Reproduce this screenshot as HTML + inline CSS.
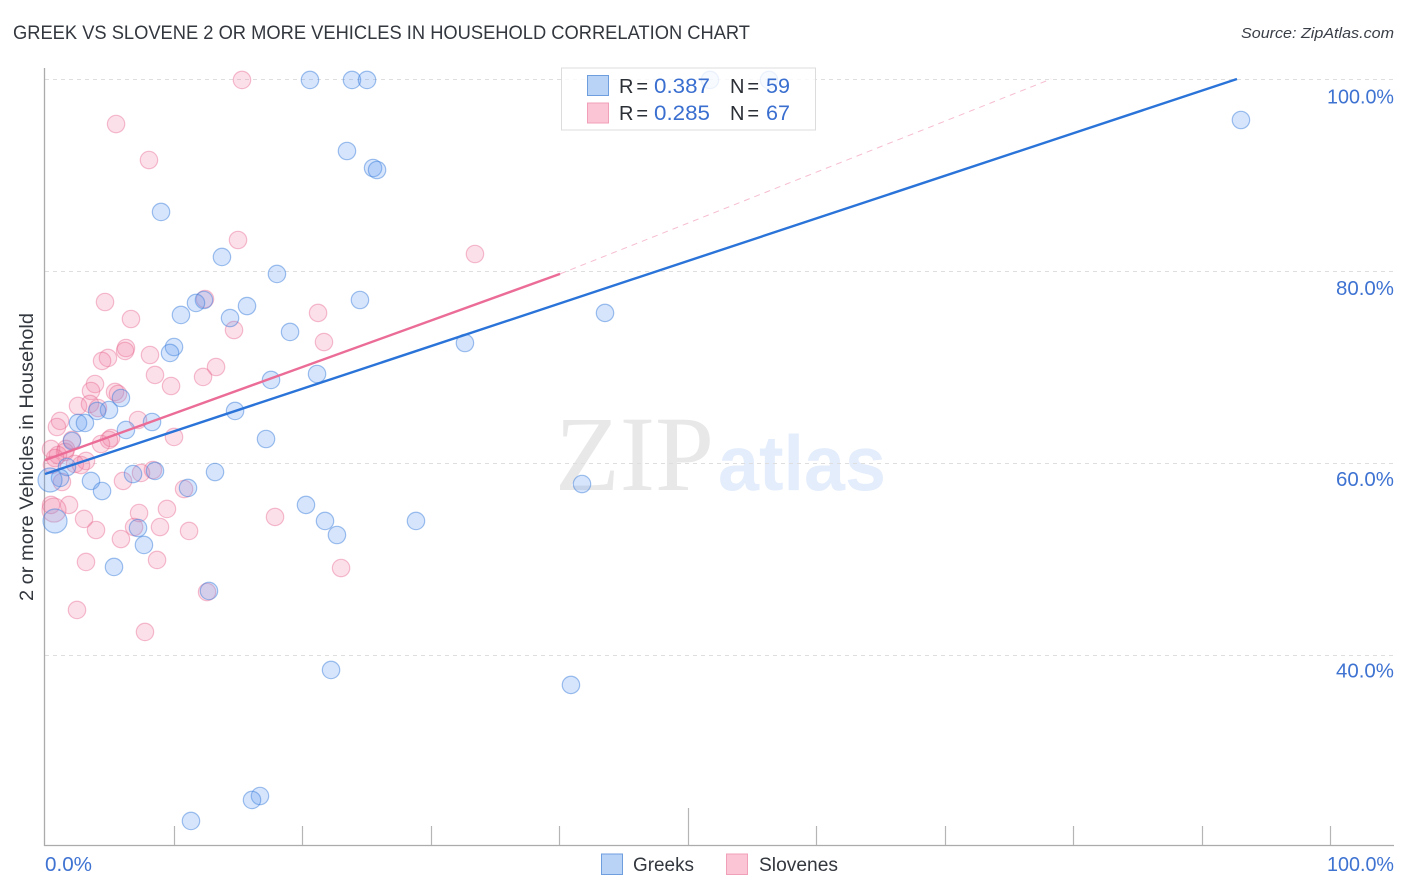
<!DOCTYPE html>
<html lang="en">
<head>
<meta charset="utf-8">
<title>Greek vs Slovene 2 or More Vehicles in Household Correlation Chart</title>
<style>
html,body{margin:0;padding:0;background:#fff;}
#chart{display:block;width:1406px;height:892px;font-family:"Liberation Sans",sans-serif;}
</style>
</head>
<body>
<svg id="chart" xmlns="http://www.w3.org/2000/svg" width="1406" height="892" viewBox="0 0 1406 892">
  <text x="13" y="39" font-size="19.5" fill="#33373e" textLength="737" lengthAdjust="spacingAndGlyphs">GREEK VS SLOVENE 2 OR MORE VEHICLES IN HOUSEHOLD CORRELATION CHART</text>
  <text x="1241" y="38" font-size="15" font-style="italic" fill="#3a3f47" textLength="153" lengthAdjust="spacingAndGlyphs">Source: ZipAtlas.com</text>
  <g>
    <text x="555" y="490" font-family="'Liberation Serif',serif" font-size="107" fill="#e8e8e8" textLength="159" lengthAdjust="spacingAndGlyphs">ZIP</text>
    <text x="718" y="490" font-family="'Liberation Sans',sans-serif" font-weight="700" font-size="78" fill="#e4edfb" textLength="168" lengthAdjust="spacingAndGlyphs">atlas</text>
  </g>
  <g id="grid"></g>
  <g id="axes"></g>
  <g id="points"></g>
  <g id="trends"></g>
  <g id="tickLabels"></g>
  <text transform="translate(33,457) rotate(-90)" text-anchor="middle" font-size="19.5" fill="#33373e" textLength="288" lengthAdjust="spacingAndGlyphs">2 or more Vehicles in Household</text>

  <g>
    <rect x="561.5" y="68" width="254" height="62" fill="#fff" fill-opacity="0.8" stroke="#dcdcdc" stroke-width="1"/>
    <rect x="587.5" y="75.5" width="21" height="20" fill="#b9d3f7" stroke="#6f9edf" stroke-width="1"/>
    <rect x="587.5" y="103" width="21" height="20" fill="#fcc5d6" stroke="#f0a0b8" stroke-width="1"/>
    <text x="619" y="93" font-size="20" fill="#2b2f36" textLength="29">R =</text>
    <text x="654" y="93" font-size="21" fill="#3a6fd0" textLength="56" lengthAdjust="spacingAndGlyphs">0.387</text>
    <text x="730" y="93" font-size="20" fill="#2b2f36" textLength="29">N =</text>
    <text x="766" y="93" font-size="21" fill="#3a6fd0" textLength="24" lengthAdjust="spacingAndGlyphs">59</text>
    <text x="619" y="120" font-size="20" fill="#2b2f36" textLength="29">R =</text>
    <text x="654" y="120" font-size="21" fill="#3a6fd0" textLength="56" lengthAdjust="spacingAndGlyphs">0.285</text>
    <text x="730" y="120" font-size="20" fill="#2b2f36" textLength="29">N =</text>
    <text x="766" y="120" font-size="21" fill="#3a6fd0" textLength="24" lengthAdjust="spacingAndGlyphs">67</text>
  </g>

  <g>
    <rect x="601.5" y="854" width="21" height="20.5" fill="#b9d3f7" stroke="#6f9edf" stroke-width="1"/>
    <text x="633" y="871" font-size="19.5" fill="#33373e" textLength="61" lengthAdjust="spacingAndGlyphs">Greeks</text>
    <rect x="726.5" y="854" width="21" height="20.5" fill="#fcc5d6" stroke="#f0a0b8" stroke-width="1"/>
    <text x="759" y="871" font-size="19.5" fill="#33373e" textLength="79" lengthAdjust="spacingAndGlyphs">Slovenes</text>
  </g>
</svg>
<script>
const greekX = [20.62,23.89,25.06,51.75,56.34,93.07,23.50,25.53,25.84,9.03,13.77,18.05,24.51,15.72,12.37,11.75,10.58,14.40,19.07,43.58,32.68,10.04,9.73,17.59,21.17,5.91,4.98,4.05,14.79,8.33,2.57,3.11,6.30,2.10,17.20,1.71,8.56,6.85,13.23,3.58,4.44,1.17,11.13,41.79,20.31,21.79,28.87,7.24,22.72,7.70,5.37,12.76,22.26,40.93,16.73,16.11,11.36,0.78,0.39];
const greekY = [99.9,99.9,99.9,99.9,99.9,95.73,92.5,90.73,90.52,86.15,81.46,79.69,76.98,76.35,76.98,76.67,75.42,75.10,73.65,75.63,72.5,72.08,71.46,68.65,69.27,66.77,65.52,65.42,65.42,64.27,64.17,64.17,63.44,62.29,62.5,59.58,59.17,58.85,59.06,58.13,57.08,58.44,57.40,57.81,55.63,53.96,53.96,53.23,52.5,51.46,49.17,46.67,38.44,36.88,25.31,24.90,22.71,53.96,58.23];
const greekWeight = [1,1,1,1,1,1,1,1,1,1,1,1,1,1,1,1,1,1,1,1,1,1,1,1,1,1,1,1,1,1,1,1,1,1,1,1,1,1,1,1,1,1,1,1,1,1,1,1,1,1,1,1,1,1,1,1,1,2,2];
const sloveneX = [15.33,5.53,8.09,15.02,33.46,4.67,6.69,12.45,21.25,14.71,21.71,6.30,6.23,8.17,4.90,4.44,13.31,8.56,12.30,9.81,3.89,3.58,5.45,5.68,2.57,3.50,4.12,1.17,0.93,7.24,10.04,5.14,4.98,4.36,0.47,1.63,1.56,1.01,3.19,2.33,2.80,0.78,8.40,7.47,1.32,6.07,10.82,1.87,0.47,0.70,9.49,3.04,7.32,17.90,3.97,6.93,8.95,11.21,5.91,8.72,3.19,23.04,12.61,2.49,7.78,2.10,0.54];
const sloveneY = [99.9,95.31,91.56,83.23,81.77,76.77,75.0,77.08,75.63,73.85,72.6,71.98,71.67,71.25,70.94,70.63,70.0,69.17,68.96,68.02,68.23,67.5,67.4,67.19,65.94,66.15,65.73,64.38,63.75,64.48,62.71,62.6,62.4,61.98,61.46,61.46,61.15,60.83,60.21,59.9,59.79,60.52,59.27,58.96,58.02,58.13,57.29,55.63,55.63,55.1,55.21,54.17,54.79,54.38,53.02,53.33,53.33,52.92,52.08,49.9,49.69,49.06,46.56,44.69,42.40,62.4,59.8];
const sloveneWeight = [1,1,1,1,1,1,1,1,1,1,1,1,1,1,1,1,1,1,1,1,1,1,1,1,1,1,1,1,1,1,1,1,1,1,1,1,1,1,1,1,1,1,1,1,1,1,1,1,1,2,1,1,1,1,1,1,1,1,1,1,1,1,1,1,1,1,1];
const greekTrendX = [0,92.76];
const greekTrendY = [58.85,100];
const sloveneTrendX = [0,40.08];
const sloveneTrendY = [60.3,79.7];
const sloveneExtendX = [40.08,78.3];
const sloveneExtendY = [79.7,100];
const xTickValues = [0,10,20,30,40,50,60,70,80,90,100];
const yGridValues = [100,80,60,40];
const yTickLabels = ["100.0%","80.0%","60.0%","40.0%"];
const xEdgeValues = [0,100];
const xEdgeLabels = ["0.0%","100.0%"];

const NS = "http://www.w3.org/2000/svg";
function xScale(v){ return 45 + v * 12.85; }
function yScale(v){ return 79 + (100 - v) * 9.6; }
function make(tag, parent, attrs){
  const el = document.createElementNS(NS, tag);
  for (const k in attrs) el.setAttribute(k, attrs[k]);
  parent.appendChild(el);
  return el;
}
const grid = document.getElementById("grid");
const axes = document.getElementById("axes");
const pts = document.getElementById("points");
const trends = document.getElementById("trends");
const labels = document.getElementById("tickLabels");

yGridValues.forEach(function(v, i){
  const gy = Math.round(yScale(v)) + 0.5;
  const gl = make("line", grid, {x1:45, x2:1394, y1:gy, y2:gy, stroke:"#dedede", "stroke-width":1, "stroke-dasharray":"4 4"});
  
  
  const labelWidth = yTickLabels[i].length === 6 ? 67 : 58;
  const t = make("text", labels, {x:1394, y:yScale(v) + 24.5 - (100 - v) * 0.035, "text-anchor":"end", "font-size":20.5, fill:"#3f73d2", textLength:String(labelWidth), lengthAdjust:"spacingAndGlyphs"});
  t.textContent = yTickLabels[i];
  
  
});

const yAxis = make("line", axes, {x1:44.5, x2:44.5, y1:68, y2:846, stroke:"#ababab", "stroke-width":1.3});


const xAxis = make("line", axes, {x1:44, x2:1394, y1:845.5, y2:845.5, stroke:"#ababab", "stroke-width":1.3});


xTickValues.forEach(function(v){
  if (v === 0) return;
  const top = v === 50 ? 808 : 826;
  const tx = Math.round(xScale(v)) + 0.5;
  const tk = make("line", axes, {x1:tx, x2:tx, y1:top, y2:845, stroke:"#b5b5b5", "stroke-width":1.2});
  
  
});
xEdgeValues.forEach(function(v, i){
  const t = make("text", labels, {x:v === 0 ? 45 : 1394, y:871, "text-anchor":v === 0 ? "start" : "end", "font-size":20.5, fill:"#3f73d2", textLength:v === 0 ? "47" : "67", lengthAdjust:"spacingAndGlyphs"});
  t.textContent = xEdgeLabels[i];
  
  
});

function radius(w){ return w > 1 ? 12 : 8.7; }
sloveneX.forEach(function(v, i){
  const c = make("circle", pts, {cx:xScale(v), cy:yScale(sloveneY[i]), r:radius(sloveneWeight[i]), fill:"#f27fa5", "fill-opacity":0.24, stroke:"#e8668f", "stroke-opacity":0.42, "stroke-width":1.2});
  
  
});
greekX.forEach(function(v, i){
  const c = make("circle", pts, {cx:xScale(v), cy:yScale(greekY[i]), r:radius(greekWeight[i]), fill:"#5f9bee", "fill-opacity":0.26, stroke:"#3a7ddc", "stroke-opacity":0.48, "stroke-width":1.2});
  
  
});

const extLine = make("line", trends, {x1:xScale(sloveneExtendX[0]), y1:yScale(sloveneExtendY[0]), x2:xScale(sloveneExtendX[1]), y2:yScale(sloveneExtendY[1]), stroke:"#eb6d97", "stroke-width":1, "stroke-opacity":0.45, "stroke-dasharray":"6 5"});


const slLine = make("line", trends, {x1:xScale(sloveneTrendX[0]), y1:yScale(sloveneTrendY[0]), x2:xScale(sloveneTrendX[1]), y2:yScale(sloveneTrendY[1]), stroke:"#eb6d97", "stroke-width":2.4});


const grLine = make("line", trends, {x1:xScale(greekTrendX[0]), y1:yScale(greekTrendY[0]), x2:xScale(greekTrendX[1]), y2:yScale(greekTrendY[1]), stroke:"#2a73d8", "stroke-width":2.4});


</script>
</body>
</html>
